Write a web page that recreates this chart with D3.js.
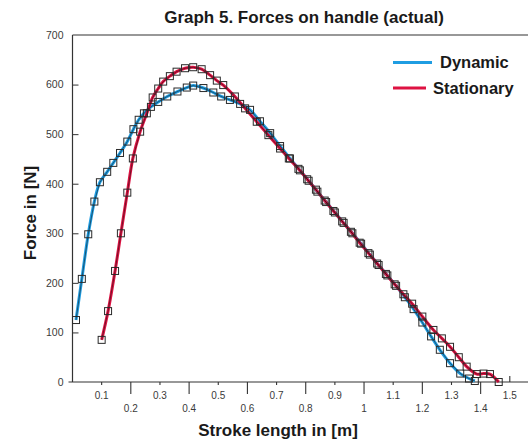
<!DOCTYPE html>
<html>
<head>
<meta charset="utf-8">
<script src="https://cdn.jsdelivr.net/npm/d3@7"></script>
<style>
  html, body { margin: 0; padding: 0; background: #fff; }
  svg { display: block; }
  text { font-family: "Liberation Sans", Arial, sans-serif; }
</style>
</head>
<body>
<script>
// Stroke length [m] and handle force [N] for the dynamic run
const dynamicX = [0.012, 0.032, 0.054, 0.075, 0.094, 0.119, 0.14, 0.163, 0.188, 0.209, 0.227,
  0.245, 0.269, 0.294, 0.325, 0.36, 0.392, 0.414, 0.449, 0.483, 0.51, 0.54, 0.575, 0.609,
  0.643, 0.678, 0.712, 0.746, 0.78, 0.81, 0.84, 0.87, 0.9, 0.93, 0.96, 0.99, 1.02, 1.05,
  1.08, 1.11, 1.14, 1.17, 1.2, 1.23, 1.26, 1.295, 1.33, 1.36, 1.38];
const dynamicF = [125, 208, 298, 364, 403, 424, 442, 462, 485, 510, 529,
  542, 555, 565, 576, 586, 594, 598, 593, 584, 576, 569, 561, 549,
  526, 502, 476, 451, 427, 406, 384, 363, 342, 321, 300, 279, 257, 236,
  215, 194, 171, 147, 120, 92, 65, 38, 17, 7, 2];

// Stroke length [m] and handle force [N] for the stationary run
const stationaryX = [0.1, 0.122, 0.146, 0.166, 0.188, 0.207, 0.232, 0.255, 0.275, 0.294, 0.311,
  0.334, 0.357, 0.386, 0.414, 0.443, 0.472, 0.495, 0.517, 0.557, 0.592, 0.632, 0.672, 0.712,
  0.742, 0.775, 0.805, 0.835, 0.865, 0.895, 0.925, 0.955, 0.985, 1.015, 1.045, 1.075, 1.105,
  1.135, 1.165, 1.2, 1.238, 1.267, 1.295, 1.325, 1.352, 1.387, 1.41, 1.432, 1.462];
const stationaryF = [85, 143, 224, 300, 382, 451, 505, 542, 574, 592, 606,
  617, 626, 633, 635, 631, 619, 608, 599, 576, 552, 525, 498, 471,
  451, 430, 409, 388, 366, 345, 324, 303, 281, 260, 239, 218, 197,
  177, 158, 132, 105, 88, 71, 50, 31, 16, 17, 16, 0];

const xTickValues = [0.1, 0.2, 0.3, 0.4, 0.5, 0.6, 0.7, 0.8, 0.9, 1, 1.1, 1.2, 1.3, 1.4, 1.5];
const yTickValues = [0, 100, 200, 300, 400, 500, 600, 700];

const seriesNames = ["Dynamic", "Stationary"];
const seriesColors = ["#1f9de2", "#de1242"];

const W = 528, H = 443;
const plotLeft = 72.5, plotBottom = 382, plotTop = 35;

const svg = d3.select("body").append("svg").attr("width", W).attr("height", H);

const x = d3.scaleLinear().domain([0, 1.5]).range([plotLeft, 509.8]);
const y = d3.scaleLinear().domain([0, 700]).range([plotBottom, plotTop]);

// Title
svg.append("text").attr("x", 304).attr("y", 23).attr("text-anchor", "middle")
  .style("font-size", "17px").style("font-weight", "bold").attr("fill", "#1a1a1a")
  .text("Graph 5. Forces on handle (actual)");

// Frame: left axis line, top line, bottom axis line
const frame = svg.append("g").attr("stroke", "#333").attr("stroke-width", 1.2).attr("fill", "none");
frame.append("line").attr("x1", plotLeft).attr("x2", plotLeft).attr("y1", plotTop).attr("y2", plotBottom);
frame.append("line").attr("x1", plotLeft).attr("x2", W).attr("y1", plotTop).attr("y2", plotTop);
frame.append("line").attr("x1", plotLeft - 4).attr("x2", W).attr("y1", plotBottom).attr("y2", plotBottom);

// Y axis ticks (inward) and labels
const yAxis = d3.axisLeft(y).tickValues(yTickValues).tickSize(-6).tickPadding(9)
  .tickFormat(d3.format("d"));
const gy = svg.append("g").attr("transform", `translate(${plotLeft},0)`).call(yAxis);
gy.select(".domain").remove();
gy.selectAll(".tick line").attr("stroke", "#333");
gy.selectAll(".tick text").attr("fill", "#3a3a3a").style("font-size", "10.5px")
  .style("font-family", "'Liberation Sans', Arial, sans-serif");
gy.selectAll(".tick").filter(d => d === 0 || d === 700).select("line").remove();

// X axis: long ticks on even tenths, short on odd, labels in two staggered rows
const isEven = d => Math.round(d * 10) % 2 === 0;
const gx = svg.append("g").attr("transform", `translate(0,${plotBottom})`);
const xt = gx.selectAll("g").data(xTickValues).join("g")
  .attr("transform", d => `translate(${x(d)},0)`);
xt.append("line").attr("stroke", "#333").attr("stroke-width", 1.1)
  .attr("y1", d => (d === 1.5 ? -6 : 0))
  .attr("y2", d => (d === 1.5 ? 0 : isEven(d) ? 12 : 3));
xt.append("text").attr("text-anchor", "middle")
  .attr("y", d => (isEven(d) ? 30 : 17))
  .attr("fill", "#3a3a3a").style("font-size", "10px")
  .text(d => d3.format("")(d));

// Axis titles
svg.append("text").attr("x", 278).attr("y", 436).attr("text-anchor", "middle")
  .style("font-size", "17px").style("font-weight", "bold").attr("fill", "#1a1a1a")
  .text("Stroke length in [m]");
svg.append("text").attr("transform", "translate(36,213) rotate(-90)").attr("text-anchor", "middle")
  .style("font-size", "17px").style("font-weight", "bold").attr("fill", "#1a1a1a")
  .text("Force in [N]");

// Series
const series = [
  { name: seriesNames[0], color: seriesColors[0], pts: dynamicX.map((v, i) => [v, dynamicF[i]]) },
  { name: seriesNames[1], color: seriesColors[1], pts: stationaryX.map((v, i) => [v, stationaryF[i]]) }
];

const smooth = d3.line().x(d => x(d[0])).y(d => y(d[1])).curve(d3.curveCatmullRom.alpha(0.5));
const raw = d3.line().x(d => x(d[0])).y(d => y(d[1]));

const plot = svg.append("g");
series.forEach(s => {
  plot.append("path").attr("d", smooth(s.pts)).attr("fill", "none")
    .attr("stroke", s.color).attr("stroke-width", 3);
});
series.forEach(s => {
  plot.append("path").attr("d", raw(s.pts)).attr("fill", "none")
    .attr("stroke", "#111").attr("stroke-width", 0.7).attr("stroke-opacity", 0.75);
});
series.forEach(s => {
  plot.append("g").selectAll("rect").data(s.pts).join("rect")
    .attr("x", d => x(d[0]) - 3.5).attr("y", d => y(d[1]) - 3.5)
    .attr("width", 7).attr("height", 7)
    .attr("fill", "none").attr("stroke", "#2a2a2a").attr("stroke-width", 1);
});

// Legend
const legend = svg.append("g");
const legendRows = [{ y: 62.5, tx: 440 }, { y: 88, tx: 433 }];
series.forEach((s, i) => {
  legend.append("line").attr("x1", 393).attr("x2", i === 0 ? 432 : 426)
    .attr("y1", legendRows[i].y).attr("y2", legendRows[i].y)
    .attr("stroke", s.color).attr("stroke-width", 2.8);
  legend.append("text").attr("x", legendRows[i].tx).attr("y", legendRows[i].y + 5.5)
    .style("font-size", "16.5px").style("font-weight", "bold").attr("fill", "#1a1a1a")
    .text(s.name);
});
</script>
</body>
</html>
